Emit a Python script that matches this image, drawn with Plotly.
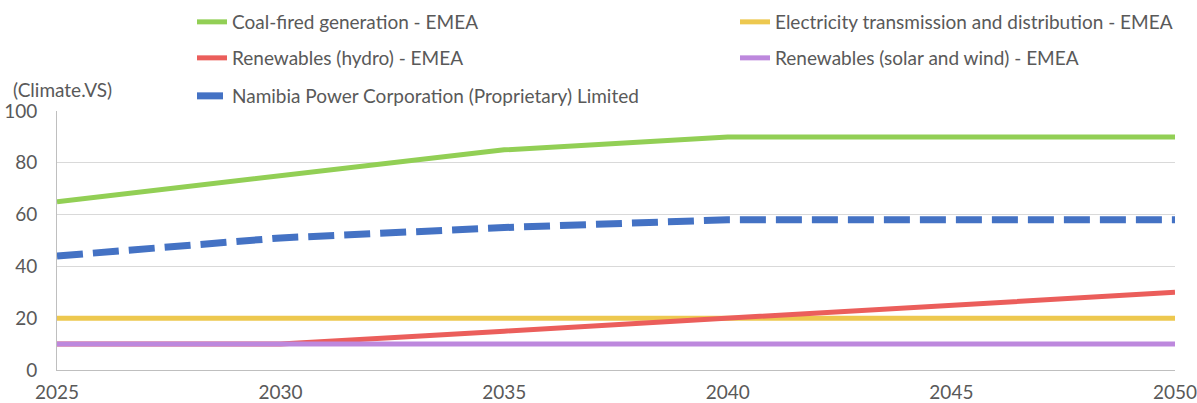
import plotly.graph_objects as go

years = [2025, 2030, 2035, 2040, 2045, 2050]
coal = [65, 75, 85, 90, 90, 90]
transmission = [20, 20, 20, 20, 20, 20]
hydro = [10, 10, 15, 20, 25, 30]
solar_wind = [10, 10, 10, 10, 10, 10]
namibia = [44, 51, 55, 58, 58, 58]

names = [
    "Coal-fired generation - EMEA",
    "Electricity transmission and distribution - EMEA",
    "Renewables (hydro) - EMEA",
    "Renewables (solar and wind) - EMEA",
    "Namibia Power Corporation (Proprietary) Limited",
]
colors = ["#92CF55", "#EDC84F", "#EB5E5B", "#BD88DD", "#4472C4"]
series = [coal, transmission, hydro, solar_wind, namibia]
legend_ids = ["legend2", "legend3", "legend4", "legend5", "legend6"]

W, H = 1197, 403
# plot area in window pixels: left 57, right 1175, top 111, bottom 370
ml, mr, mt, mb = 57, 1197 - 1175, 111, 403 - 370
pw = W - ml - mr
ph = H - mt - mb

def px_to_paper_x(px):
    return (px - ml) / pw

def px_to_paper_y(py):
    return (H - mb - py) / ph

# legend slot (left x, center y) in window pixels
legend_pos = [(192, 22), (735, 22), (192, 58), (735, 58), (192, 96)]

fig = go.Figure()
for i, (nm, vals) in enumerate(zip(names, series)):
    dash = "26px,10px" if i == 4 else "solid"
    width = 7 if i == 4 else 5
    fig.add_trace(go.Scatter(
        x=years, y=vals, name=nm, mode="lines",
        line=dict(color=colors[i], width=width, dash=dash),
        legend=legend_ids[i],
    ))

font = dict(family="Lato, 'DejaVu Sans', sans-serif", size=19, color="#595959")
leg_common = dict(orientation="h", xanchor="left", yanchor="middle",
                  bgcolor="rgba(0,0,0,0)", font=font)

layout_legends = {}
for lid, (px, py) in zip(legend_ids, legend_pos):
    layout_legends[lid] = dict(x=px_to_paper_x(px), y=px_to_paper_y(py), **leg_common)

fig.update_layout(
    width=W, height=H,
    margin=dict(l=ml, r=mr, t=mt, b=mb, autoexpand=False),
    paper_bgcolor="white", plot_bgcolor="white",
    font=font,
    showlegend=True,
    xaxis=dict(range=[2025, 2050], tickvals=years, ticktext=[str(y) for y in years],
               showgrid=False, showline=True, linecolor="#BFBFBF", linewidth=1,
               ticks="", zeroline=False, tickfont=font, ticklabelstandoff=5,
               ticklabeloverflow="allow"),
    yaxis=dict(range=[0, 100], dtick=20, showgrid=True, gridcolor="#D9D9D9",
               gridwidth=1, showline=True, linecolor="#BFBFBF", linewidth=1,
               ticks="", zeroline=False, tickfont=font, ticklabelstandoff=15),
    annotations=[dict(text="(Climate.VS)", x=px_to_paper_x(11), y=px_to_paper_y(90),
                      xref="paper", yref="paper", xanchor="left", yanchor="middle",
                      showarrow=False, font=font)],
    **layout_legends,
)

fig.write_html("out.html", config={"displayModeBar": False},
               post_script="document.body.style.margin='0';document.body.style.overflow='hidden';")
